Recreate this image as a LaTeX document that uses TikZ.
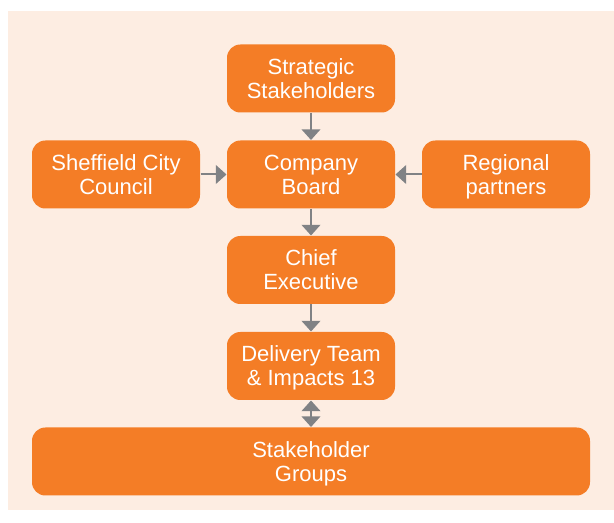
\documentclass[tikz,border=0pt]{standalone}
\usepackage{fontspec}
\setmainfont{Liberation Sans}
\usetikzlibrary{arrows.meta}

\definecolor{boxorange}{RGB}{244,125,38}
\definecolor{panelpeach}{RGB}{253,237,226}
\definecolor{arrowgrey}{RGB}{128,130,133}

\tikzset{every picture/.style={line width=0.75pt}}
\tikzset{
  orgbox/.style={fill=boxorange, draw=none, rounded corners=10pt, text=white,
    minimum width=126pt, minimum height=51pt, align=center, inner sep=0pt,
    text height=30pt, text depth=0pt,
    font=\fontsize{16.5}{18.2}\selectfont},
  orgarrow/.style={draw=arrowgrey, line width=1.5pt,
    -{Triangle[width=14pt,length=8pt]}},
  orgtwoway/.style={draw=arrowgrey, line width=1.5pt,
    {Triangle[width=14pt,length=8pt]}-{Triangle[width=14pt,length=8pt]}}
}

\begin{document}
\begin{tikzpicture}[x=0.75pt,y=0.75pt,yscale=-1,xscale=1]
\useasboundingbox (0,0) rectangle (614,523);

%Shape: Rectangle [background panel]
\fill [panelpeach] (8,11) rectangle (614,510);

% Text Node
\node [orgbox] (strategic) at (311,78.5) {Strategic\\Stakeholders};
% Text Node
\node [orgbox] (board) at (311,174.5) {Company\\Board};
% Text Node
\node [orgbox] (sheffield) at (116,174.5) {Sheffield City\\Council};
% Text Node
\node [orgbox] (regional) at (506,174.5) {Regional\\partners};
% Text Node
\node [orgbox] (chief) at (311,270) {Chief\\Executive};
% Text Node
\node [orgbox] (delivery) at (311,366) {Delivery Team\\\& Impacts 13};
% Text Node
\node [orgbox, minimum width=418.5pt] (groups) at (311,461.5) {Stakeholder\\Groups};

%Straight Lines
\draw [orgarrow] (strategic) -- (board);
\draw [orgarrow] (sheffield) -- (board);
\draw [orgarrow] (regional) -- (board);
\draw [orgarrow] (board) -- (chief);
\draw [orgarrow] (chief) -- (delivery);
\draw [orgtwoway] (delivery) -- (groups);

\end{tikzpicture}
\end{document}
